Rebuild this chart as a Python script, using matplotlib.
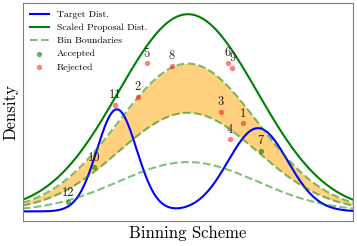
import numpy as np
import matplotlib
matplotlib.use("Agg")
import matplotlib.pyplot as plt

plt.rcParams['font.family'] = ['cmr10', 'DejaVu Serif']
plt.rcParams['mathtext.fontset'] = 'cm'
plt.rcParams['axes.formatter.use_mathtext'] = True

# target: two bumps (amplitude, mean, sigma)
target_amp = [0.515, 0.42]
target_mu = [-2.15, 2.12]
target_sig = [0.6, 0.9]

# scaled proposal (amplitude, mean, sigma) and bin boundary fractions
prop_amp = 0.995
prop_mu = 0.0
prop_sig = 2.1
bin_frac = [0.75, 0.5, 0.25]

# sampled points
pt_id = [1, 2, 3, 4, 5, 6, 7, 8, 9, 10, 11, 12]
pt_x = [1.66, -1.52, 0.99, 1.28, -1.25, 1.21, 2.21, -0.49, 1.35, -2.84, -2.21, -3.62]
pt_y = [0.444, 0.579, 0.503, 0.365, 0.747, 0.750, 0.306, 0.734, 0.725, 0.222, 0.537, 0.046]
pt_acc = [False, False, False, False, False, False, True, False, False, True, False, True]

x = np.linspace(-5, 5, 400)


def gauss(x, a, m, s):
    return a * np.exp(-0.5 * ((x - m) / s) ** 2)


target = sum(gauss(x, a, m, s) for a, m, s in zip(target_amp, target_mu, target_sig))
proposal = gauss(x, prop_amp, prop_mu, prop_sig)

fig = plt.figure(figsize=(3.57, 2.46), dpi=100)
ax = fig.add_axes([0.0636, 0.1004, 0.9254, 0.8862])

ax.fill_between(x, bin_frac[1] * proposal, bin_frac[0] * proposal,
                color='orange', alpha=0.5, lw=0)
ax.plot(x, target, color='blue', lw=1.5, label='Target Dist.')
ax.plot(x, proposal, color='green', lw=1.5, label='Scaled Proposal Dist.')
for i, f in enumerate(bin_frac):
    ax.plot(x, f * proposal, color='green', alpha=0.5, lw=1.5, ls='--',
            label='Bin Boundaries' if i == 0 else None)

acc = np.array(pt_acc)
px = np.array(pt_x)
py = np.array(pt_y)
ax.scatter(px[acc], py[acc], s=15, color='green', alpha=0.6, lw=0, label='Accepted', zorder=3)
ax.scatter(px[~acc], py[~acc], s=15, color='red', alpha=0.5, lw=0, label='Rejected', zorder=3)
for i, xx, yy in zip(pt_id, pt_x, pt_y):
    ax.annotate(str(i), (xx, yy), xytext=(0, 2.5), textcoords='offset points',
                ha='center', va='bottom', fontsize=9, color='#222222')

ax.set_xlim(-5, 5)
ax.set_ylim(-0.05, 1.05)
ax.set_xticks([])
ax.set_yticks([])
for sp in ax.spines.values():
    sp.set_color('grey')
ax.set_xlabel('Binning Scheme', fontsize=12, labelpad=3)
ax.set_ylabel('Density', fontsize=12, labelpad=3)

ax.legend(loc='upper left', frameon=False, fontsize=7, handlelength=2.0,
          labelspacing=0.45, borderaxespad=0.3)

fig.savefig('out.png', dpi=100)
